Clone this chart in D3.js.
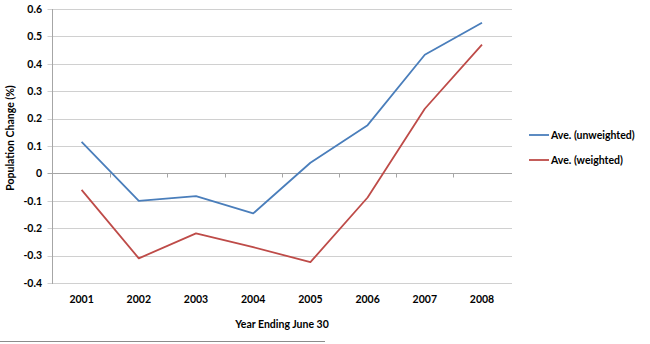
<!DOCTYPE html>
<html><head><meta charset="utf-8">
<script src="https://cdn.jsdelivr.net/npm/d3@7"></script>
<style>body{margin:0;background:#fff}svg{display:block}text{font-family:Lato,"Open Sans",sans-serif;font-weight:bold;fill:#000}</style>
</head><body><svg id="c" width="650" height="344"></svg>
<script>
const years = ["2001","2002","2003","2004","2005","2006","2007","2008"];
const unweighted = [0.115,-0.10,-0.083,-0.146,0.039,0.176,0.433,0.55];
const weighted = [-0.06,-0.31,-0.219,-0.269,-0.324,-0.088,0.236,0.47];
const yTicks = [0.6,0.5,0.4,0.3,0.2,0.1,0,-0.1,-0.2,-0.3,-0.4];
const seriesNames = ["Ave. (unweighted)","Ave. (weighted)"];
const colors = ["#4a7ebb","#be4b48"];

(function(){
const svg = d3.select("#c");
const pLeft = 52.5, pRight = 512, pTop = 9, pBottom = 283;
const x = d3.scaleBand().domain(years).range([53, 510.6]);
const y = d3.scaleLinear().domain([-0.4,0.6]).range([pBottom, pTop]);

// grid
svg.append("g").selectAll("line").data(yTicks).join("line")
  .attr("x1", pLeft-5).attr("x2", pRight)
  .attr("y1", d=>Math.round(y(d))+0.5).attr("y2", d=>Math.round(y(d))+0.5)
  .attr("stroke", d=> d===0 ? "#a6a6a6" : "#d0d0d0").attr("stroke-width",1);
// y axis line
svg.append("line").attr("x1",pLeft).attr("x2",pLeft).attr("y1",Math.round(y(0.6))).attr("y2",Math.round(y(-0.4))+1)
  .attr("stroke","#a6a6a6");
// category ticks on zero line
const y0 = Math.round(y(0))+0.5;
svg.append("g").selectAll("line").data(years.slice(1)).join("line")
  .attr("x1", d=>Math.round(x(d))+0.5).attr("x2", d=>Math.round(x(d))+0.5)
  .attr("y1", y0).attr("y2", y0+4).attr("stroke","#a6a6a6");

// y labels
svg.append("g").selectAll("text").data(yTicks).join("text")
  .attr("x", 42).attr("y", d=>y(d)+3.8).attr("text-anchor","end")
  .style("font-size","10.5px").text(d=>String(Math.round(d*10)/10));
// x labels
svg.append("g").selectAll("text").data(years).join("text")
  .attr("x", d=>x(d)+x.bandwidth()/2).attr("y", 303).attr("text-anchor","middle")
  .style("font-size","10.5px").text(d=>d);

// titles
svg.append("text").attr("x",282).attr("y",328).attr("text-anchor","middle")
  .style("font-size","10.5px").text("Year Ending June 30");
svg.append("text").attr("transform","translate(14,138) rotate(-90)").attr("text-anchor","middle")
  .style("font-size","10.5px").text("Population Change (%)");

// lines
const line = d3.line().x((d,i)=>x(years[i])+x.bandwidth()/2).y(d=>y(d));
[unweighted, weighted].forEach((s,i)=>{
  svg.append("path").datum(s).attr("d", line).attr("fill","none")
    .attr("stroke", colors[i]).attr("stroke-width",1.8).attr("stroke-linejoin","round");
});

// legend
seriesNames.forEach((n,i)=>{
  const ly = 135 + i*25;
  svg.append("line").attr("x1",529).attr("x2",549).attr("y1",ly).attr("y2",ly)
    .attr("stroke",colors[i]).attr("stroke-width",1.8);
  svg.append("text").attr("x",551).attr("y",ly+3.8).style("font-size","10.5px").text(n);
});

// bottom rule
svg.append("line").attr("x1",0).attr("x2",325).attr("y1",341.5).attr("y2",341.5).attr("stroke","#8c8c8c");
})();
</script></body></html>
